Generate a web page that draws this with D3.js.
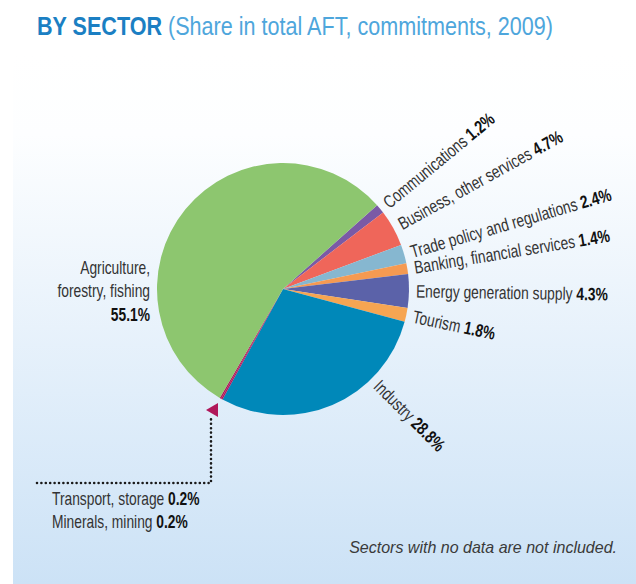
<!DOCTYPE html>
<html><head><meta charset="utf-8">
<script src="https://cdn.jsdelivr.net/npm/d3@7"></script>
<style>
html,body{margin:0;padding:0;background:#fff;}
svg{display:block;}
text{font-family:"Liberation Sans","Arial",sans-serif;}
</style></head>
<body>
<svg id="chart" width="636" height="584"></svg>
<script>
const sectors = ["Communications","Business, other services","Trade policy and regulations","Banking, financial services","Energy generation supply","Tourism","Industry","Transport, storage","Minerals, mining","Agriculture, forestry, fishing"];
const shares = [1.2, 4.7, 2.4, 1.4, 4.3, 1.8, 28.8, 0.2, 0.2, 55.1];
const colors = ["#7a5aa6","#ef665a","#86b7d0","#f59a52","#5b62a9","#f6a552","#0088b9","#b0185a","#b0185a","#8dc66f"];

const svg = d3.select("#chart");
const W = 636, H = 584;
const FS = 18;

// measure a uniform horizontal compression for the condensed look
function measure(parts, size, style) {
  const t = svg.append("text").attr("font-size", size).attr("font-style", style || null);
  parts.forEach(p => t.append("tspan").attr("font-weight", p[1] ? "bold" : null).text(p[0]));
  const w = t.node().getComputedTextLength();
  t.remove();
  return w;
}
const SX = 192 / measure([["Energy generation supply ", false], ["4.3%", true]], FS);

const defs = svg.append("defs");
const grad = defs.append("linearGradient").attr("id","bg").attr("x1",0).attr("y1",0).attr("x2",0).attr("y2",1);
grad.append("stop").attr("offset","0%").attr("stop-color","#ffffff");
grad.append("stop").attr("offset","15%").attr("stop-color","#fdfeff");
grad.append("stop").attr("offset","100%").attr("stop-color","#cce2f6");
svg.append("rect").attr("x",13).attr("y",55).attr("width",W-13).attr("height",H-55).attr("fill","url(#bg)");

// Title
const titleSX = 516 / measure([["BY SECTOR", true], [" (Share in total AFT, commitments, 2009)", false]], 25);
const title = svg.append("text").attr("transform",`translate(37,35) scale(${titleSX},1)`).attr("font-size",25);
title.append("tspan").attr("font-weight","bold").attr("fill","#1b7fc3").text("BY SECTOR");
title.append("tspan").attr("fill","#4ea6dc").text(" (Share in total AFT, commitments, 2009)");

const cx = 283, cy = 289, R = 126;
const start = 48.3 * Math.PI/180;
const pie = d3.pie().sort(null).value(d=>d).startAngle(start).endAngle(start + 2*Math.PI);
const arcs = pie(shares);
const arc = d3.arc().innerRadius(0).outerRadius(R);
const g = svg.append("g").attr("transform",`translate(${cx},${cy})`);
g.selectAll("path").data(arcs).enter().append("path")
  .attr("d",arc).attr("fill",(d,i)=>colors[i]);

// Radial labels on the right side (indices 0..6)
const labelAngleOverride = {6: 135};
const lr = 133;
for (let i = 0; i <= 6; i++) {
  const a = arcs[i];
  let ang = (labelAngleOverride[i] !== undefined) ? labelAngleOverride[i] : ((a.startAngle + a.endAngle)/2) * 180/Math.PI;
  const rad = ang*Math.PI/180;
  const x = lr*Math.sin(rad), y = -lr*Math.cos(rad);
  const t = g.append("text")
    .attr("transform",`translate(${x},${y}) rotate(${ang-90}) scale(${SX},1)`)
    .attr("dy","0.35em").attr("font-size",FS).attr("fill","#333");
  t.append("tspan").text(sectors[i] + " ");
  t.append("tspan").attr("font-weight","bold").attr("fill","#111").text(shares[i].toFixed(1) + "%");
}

// Agriculture label
const agLines = ["Agriculture,", "forestry, fishing"];
agLines.forEach((s,k)=>{
  svg.append("text").attr("text-anchor","end").attr("font-size",FS).attr("fill","#333")
    .attr("transform",`translate(150,${274+k*23}) scale(${SX},1)`).text(s);
});
svg.append("text").attr("text-anchor","end").attr("font-size",FS).attr("fill","#111").attr("font-weight","bold")
  .attr("transform",`translate(150,321) scale(${SX},1)`).text(shares[9].toFixed(1)+"%");

// Callout for small slices
svg.append("path").attr("d","M37,483 H211 V418")
  .attr("fill","none").attr("stroke","#1a1a1a").attr("stroke-width",2.6)
  .attr("stroke-dasharray","0,4.4").attr("stroke-linecap","round");
svg.append("path").attr("d","M206,410 L218,403 L218,417 Z").attr("fill","#b0185a");

[7,8].forEach((i,k)=>{
  const t = svg.append("text").attr("transform",`translate(52,${505+k*23}) scale(${SX},1)`).attr("font-size",FS).attr("fill","#333");
  t.append("tspan").text(sectors[i] + " ");
  t.append("tspan").attr("font-weight","bold").attr("fill","#111").text(shares[i].toFixed(1) + "%");
});

const noteText = "Sectors with no data are not included.";
const noteSX = 268 / measure([[noteText,false]], 16, "italic");
svg.append("text").attr("transform",`translate(617,553) scale(${noteSX},1)`).attr("text-anchor","end")
  .attr("font-size",16).attr("font-style","italic").attr("fill","#3a3a3a")
  .text(noteText);
</script>
</body></html>
